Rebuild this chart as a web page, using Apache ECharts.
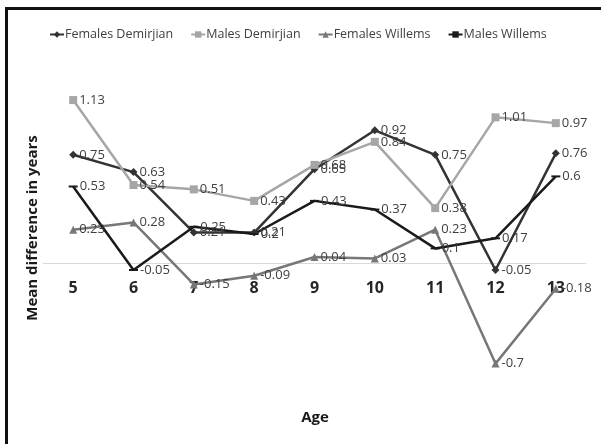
<!DOCTYPE html>
<html>
<head>
<meta charset="utf-8">
<script src="https://cdn.jsdelivr.net/npm/echarts@6/dist/echarts.min.js"></script>
<style>
  html, body { margin: 0; padding: 0; background: #fff; }
  #chart { width: 601px; height: 444px; }
</style>
</head>
<body>
<div id="chart"></div>
<script>
// Age groups on the category axis
const ages = ['5', '6', '7', '8', '9', '10', '11', '12', '13'];

// Mean difference (estimated minus chronological age), in years
const femalesDemirjian = [0.75, 0.63, 0.21, 0.21, 0.65, 0.92, 0.75, -0.05, 0.76];
const malesDemirjian   = [1.13, 0.54, 0.51, 0.43, 0.68, 0.84, 0.38, 1.01, 0.97];
const femalesWillems   = [0.23, 0.28, -0.15, -0.09, 0.04, 0.03, 0.23, -0.7, -0.18];
const malesWillems     = [0.53, -0.05, 0.25, 0.2, 0.43, 0.37, 0.1, 0.17, 0.6];

const seriesNames = ['Females Demirjian', 'Males Demirjian', 'Females Willems', 'Males Willems'];

const FONT = '"Open Sans", "Noto Sans", sans-serif';

// value range and plot height; the category axis is lifted so it crosses at zero
const Y_MIN = -0.8, Y_MAX = 1.2;
const GRID_TOP = 90, GRID_HEIGHT = 288;
const zeroOffset = -GRID_HEIGHT * (0 - Y_MIN) / (Y_MAX - Y_MIN);

function lineSeries(name, data, color, symbol, symbolSize) {
  return {
    name: name,
    type: 'line',
    data: data,
    symbol: symbol,
    symbolSize: symbolSize,
    showAllSymbol: true,
    lineStyle: { color: color, width: 2.5 },
    itemStyle: { color: color },
    label: {
      show: true,
      position: 'right',
      distance: 2,
      color: '#404040',
      fontFamily: FONT,
      fontSize: 13
    },
    emphasis: { disabled: true },
    animation: false,
    z: 2
  };
}

const chart = echarts.init(document.getElementById('chart'), null, { renderer: 'canvas' });

chart.setOption({
  backgroundColor: '#ffffff',
  animation: false,
  textStyle: { fontFamily: FONT },
  legend: {
    data: seriesNames,
    top: 23,
    left: 44,
    itemGap: 17,
    itemWidth: 14,
    itemHeight: 8,
    textStyle: { color: '#404040', fontSize: 12.5, fontFamily: FONT, padding: [0, 0, 0, -4] }
  },
  grid: { left: 43, right: 15, top: GRID_TOP, height: GRID_HEIGHT, containLabel: false },
  xAxis: {
    type: 'category',
    data: ages,
    boundaryGap: true,
    position: 'bottom',
    offset: zeroOffset,
    axisLine: { show: true, onZero: false, lineStyle: { color: '#d9d9d9', width: 1 } },
    axisTick: { show: false },
    axisLabel: {
      margin: 18,
      color: '#262626',
      fontWeight: 'bold',
      fontSize: 16,
      fontFamily: FONT
    },
    splitLine: { show: false },
    z: 1
  },
  yAxis: {
    type: 'value',
    min: Y_MIN,
    max: Y_MAX,
    axisLine: { show: false },
    axisTick: { show: false },
    axisLabel: { show: false },
    splitLine: { show: false }
  },
  graphic: [
    // frame along the left and top edges
    { type: 'rect', shape: { x: 5, y: 7, width: 3, height: 437 }, style: { fill: '#111' }, silent: true },
    { type: 'rect', shape: { x: 5, y: 7, width: 596, height: 3 }, style: { fill: '#111' }, silent: true },
    {
      type: 'text',
      x: 315, y: 418,
      style: {
        text: 'Age', fill: '#1a1a1a', font: 'bold 15px ' + FONT,
        align: 'center', verticalAlign: 'middle'
      },
      silent: true
    },
    {
      type: 'text',
      x: 33, y: 228,
      rotation: Math.PI / 2,
      style: {
        text: 'Mean difference in years', fill: '#1a1a1a', font: 'bold 15px ' + FONT,
        align: 'center', verticalAlign: 'middle'
      },
      silent: true
    }
  ],
  series: [
    lineSeries(seriesNames[0], femalesDemirjian, '#333333', 'diamond', 8),
    lineSeries(seriesNames[1], malesDemirjian, '#a6a6a6', 'rect', 8),
    lineSeries(seriesNames[2], femalesWillems, '#777777', 'triangle', 8),
    lineSeries(seriesNames[3], malesWillems, '#1a1a1a', 'rect', [9, 2])
  ]
});
</script>
</body>
</html>
